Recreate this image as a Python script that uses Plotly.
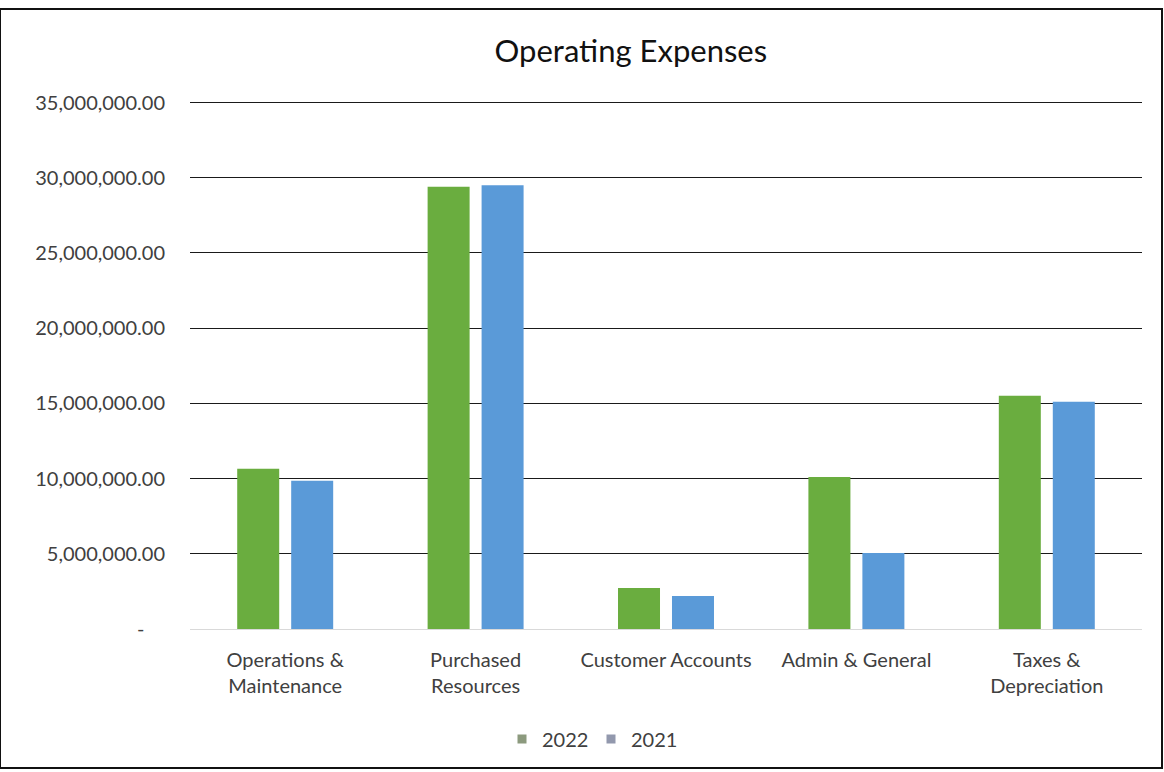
import plotly.graph_objects as go

# Operating expense categories and yearly totals
categories = ["Operations & Maintenance", "Purchased Resources", "Customer Accounts",
              "Admin & General", "Taxes & Depreciation"]
category_labels = ["Operations &<br>Maintenance", "Purchased<br>Resources", "Customer Accounts",
                   "Admin & General", "Taxes &<br>Depreciation"]
years = ["2022", "2021"]
values_2022 = [10650000, 29400000, 2730000, 10100000, 15500000]
values_2021 = [9850000, 29500000, 2200000, 5050000, 15100000]

y_tickvals = [0, 5000000, 10000000, 15000000, 20000000, 25000000, 30000000, 35000000]
y_ticktext = ["-\u00a0\u00a0\u00a0\u00a0", "5,000,000.00", "10,000,000.00", "15,000,000.00",
              "20,000,000.00", "25,000,000.00", "30,000,000.00", "35,000,000.00"]

FONT = "Lato, 'Open Sans', sans-serif"
TEXT = "#404040"
bar_colors = ["#6aad3f", "#5a9ad8"]
key_colors = ["#8c9a7e", "#9298ad"]

fig = go.Figure()
for year, vals, col, key in zip(years, [values_2022, values_2021], bar_colors, key_colors):
    fig.add_trace(go.Bar(name=year, x=categories, y=vals, legendgroup=year, showlegend=False,
                         marker=dict(color=col, line=dict(width=0))))
    # small square key shown in the legend
    fig.add_trace(go.Scatter(name=year, x=[None], y=[None], mode="markers", legendgroup=year,
                             marker=dict(symbol="square", size=9, color=key)))

fig.update_layout(
    width=1164, height=772,
    margin=dict(l=190, r=22, t=101, b=143),
    paper_bgcolor="white", plot_bgcolor="white",
    barmode="group", bargap=0.433, bargroupgap=0.222,
    title=dict(text="Operating Expenses", x=0.542, xref="container", xanchor="center",
               y=1 - 51 / 772, yref="container", yanchor="middle",
               font=dict(family=FONT, size=31, color="#111111")),
    font=dict(family=FONT, size=20, color=TEXT),
    showlegend=True,
    legend=dict(orientation="h", xref="container", yref="container",
                x=502 / 1164, y=1 - 739 / 772, xanchor="left", yanchor="middle",
                font=dict(family=FONT, size=20, color=TEXT),
                itemwidth=30, entrywidth=44, entrywidthmode="pixels", tracegroupgap=0),
    xaxis=dict(tickmode="array", tickvals=categories, ticktext=category_labels,
               showgrid=False, showline=True, linecolor="#d9d9d9", linewidth=1,
               ticks="", ticklabelstandoff=13, tickfont=dict(family=FONT, size=20, color=TEXT)),
    yaxis=dict(range=[0, 35100000], tickmode="array", tickvals=y_tickvals, ticktext=y_ticktext,
               showgrid=True, gridcolor="#1a1a1a", gridwidth=1, zeroline=False,
               showline=False, ticks="", ticklabelstandoff=24,
               tickfont=dict(family=FONT, size=20, color=TEXT)),
)

# Outer chart frame
fig.add_shape(type="rect", xref="paper", yref="paper",
              x0=-190 / 952, x1=1 + 20 / 952, y0=-139 / 528, y1=1 + 92 / 528,
              line=dict(color="#111111", width=2), fillcolor="rgba(0,0,0,0)", layer="below")

fig.write_html("out.html")
